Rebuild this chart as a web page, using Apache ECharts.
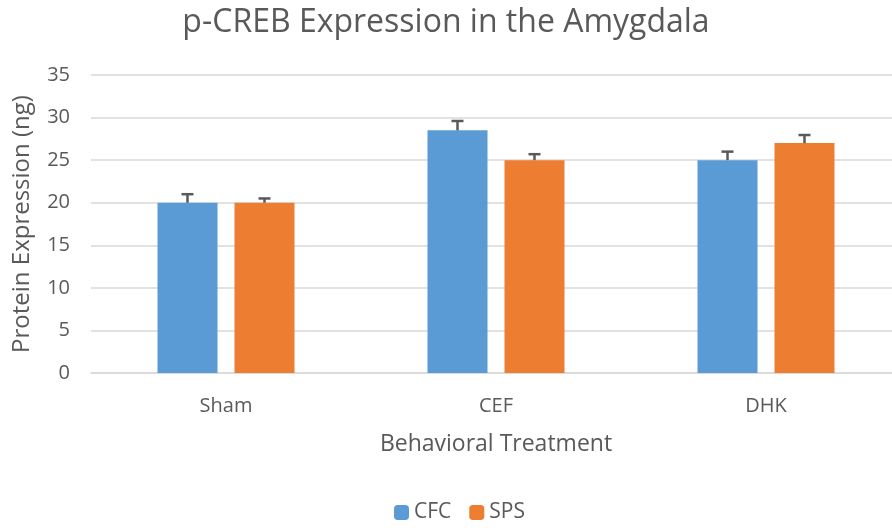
<!DOCTYPE html>
<html>
<head>
<meta charset="utf-8">
<script src="https://cdn.jsdelivr.net/npm/echarts@6/dist/echarts.min.js"></script>
<style>
  html, body { margin: 0; padding: 0; background: #fff; }
  #chart { width: 892px; height: 528px; }
</style>
</head>
<body>
<div id="chart"></div>
<script>
var categories = ['Sham', 'CEF', 'DHK'];
var cfcValues = [20, 28.5, 25];
var cfcErrors = [1.0, 1.1, 1.0];
var spsValues = [20, 25, 27];
var spsErrors = [0.5, 0.7, 0.95];

var barWidth = 60;
var barGapPx = 17;
var halfStep = (barWidth + barGapPx) / 2;

function errorSeries(name, values, errors, offset) {
    return {
        name: name + ' err',
        type: 'custom',
        z: 5,
        silent: true,
        data: values.map(function (v, i) { return [i, v, v + errors[i]]; }),
        renderItem: function (params, api) {
            var base = api.coord([api.value(0), api.value(1)]);
            var top = api.coord([api.value(0), api.value(2)]);
            var x = base[0] + offset;
            var style = { stroke: '#595959', lineWidth: 2.5 };
            return {
                type: 'group',
                children: [
                    { type: 'line', shape: { x1: x, y1: base[1], x2: x, y2: top[1] }, style: style },
                    { type: 'line', shape: { x1: x - 6, y1: top[1], x2: x + 6, y2: top[1] }, style: style }
                ]
            };
        }
    };
}

var textFont = '"Open Sans", "Noto Sans", sans-serif';

var option = {
    animation: false,
    title: {
        text: 'p-CREB Expression in the Amygdala',
        left: 'center',
        top: 2,
        textStyle: { fontFamily: textFont, fontSize: 32, fontWeight: 'normal', color: '#595959' }
    },
    legend: {
        data: ['CFC', 'SPS'],
        bottom: 0,
        left: 389,
        itemWidth: 15,
        itemHeight: 15,
        itemGap: 18,
        textStyle: { fontFamily: textFont, fontSize: 21, color: '#595959' }
    },
    // the plot runs a little past the right edge of the picture
    grid: { left: 91, top: 75, width: 810, height: 298, outerBoundsMode: 'none', containLabel: false },
    xAxis: {
        type: 'category',
        data: categories,
        name: 'Behavioral Treatment',
        nameLocation: 'middle',
        nameGap: 60,
        nameTextStyle: { fontFamily: textFont, fontSize: 23, color: '#595959' },
        axisLine: { lineStyle: { color: '#d9d9d9', width: 1.5 } },
        axisTick: { show: false },
        axisLabel: { fontFamily: textFont, fontSize: 20, color: '#595959', margin: 23 }
    },
    yAxis: {
        type: 'value',
        min: 0,
        max: 35,
        interval: 5,
        name: 'Protein Expression (ng)',
        nameLocation: 'middle',
        nameGap: 57,
        nameTextStyle: { fontFamily: textFont, fontSize: 24, color: '#595959' },
        axisLine: { show: false },
        axisTick: { show: false },
        axisLabel: { fontFamily: textFont, fontSize: 20, color: '#595959', margin: 21 },
        splitLine: { lineStyle: { color: '#d9d9d9', width: 1.5 } }
    },
    series: [
        {
            name: 'CFC',
            type: 'bar',
            data: cfcValues,
            barWidth: barWidth,
            barGap: (barGapPx / barWidth * 100) + '%',
            itemStyle: { color: '#5B9BD5' }
        },
        {
            name: 'SPS',
            type: 'bar',
            data: spsValues,
            barWidth: barWidth,
            itemStyle: { color: '#ED7D31' }
        },
        errorSeries('CFC', cfcValues, cfcErrors, -halfStep),
        errorSeries('SPS', spsValues, spsErrors, halfStep)
    ]
};

var myChart = echarts.init(document.getElementById('chart'));
myChart.setOption(option, true);
</script>
</body>
</html>
